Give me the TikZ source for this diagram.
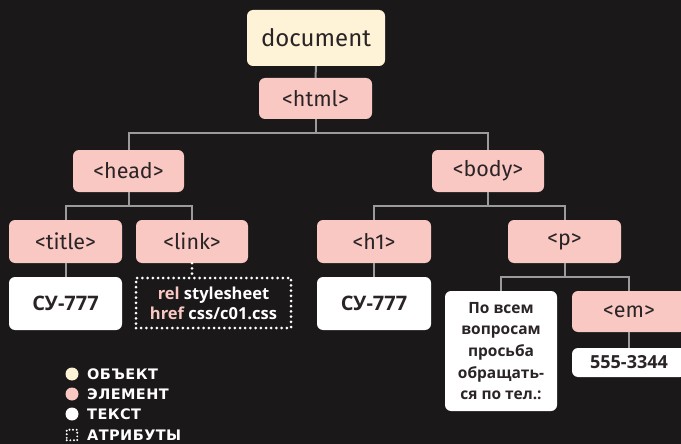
\documentclass[tikz,border=0pt]{standalone}
\usepackage{fontspec}
\setmainfont{Fira Sans}
\newfontfamily\txtfont{Open Sans}
\newfontfamily\legfont{DejaVu Sans}[LetterSpace=3]
\usepackage{xcolor}
\usepackage{tikz}
\usetikzlibrary{calc}

\definecolor{bg}{HTML}{1B1819}
\definecolor{objcol}{HTML}{FFF3D7}
\definecolor{elemcol}{HTML}{F9C8C2}
\definecolor{linecol}{HTML}{9B9B9B}
\definecolor{ink}{HTML}{2A2426}

\begin{document}
\begin{tikzpicture}[x=1pt,y=-1pt,
	box/.style={rectangle,rounded corners=6pt,inner sep=0pt,align=center,text=ink},
	obj/.style={box,fill=objcol,font=\fontsize{24}{30}\selectfont},
	elem/.style={box,fill=elemcol,font=\fontsize{21.5}{24}\selectfont},
	txt/.style={box,fill=white,font=\txtfont\bfseries\fontsize{20}{24}\selectfont},
	wire/.style={draw=linecol,line width=2pt},
	dots/.style={draw=white,line width=3pt,line cap=round,dash pattern=on 0pt off 5.2pt},
	legend/.style={anchor=west,inner sep=0pt,text=white,font=\legfont\bfseries\fontsize{14.5}{16}\selectfont}]
\fill[bg] (0,0) rectangle (681,444);
\useasboundingbox (0,0) rectangle (681,444);

% tree
\node[obj,minimum width=138pt,minimum height=56pt] (doc) at (316,38) {document};
\node[elem,minimum width=113pt,minimum height=41pt] (html) at (315.5,98.5) {<html>};
\node[elem,minimum width=111pt,minimum height=42pt] (head) at (128.5,171) {<head>};
\node[elem,minimum width=112pt,minimum height=42pt] (body) at (488,171) {<body>};
\node[elem,minimum width=113pt,minimum height=43pt] (title) at (65.5,241.5) {<title>};
\node[elem,minimum width=112pt,minimum height=43pt] (link) at (192,241.5) {<link>};
\node[elem,minimum width=114pt,minimum height=43pt] (h1) at (374,241.5) {<h1>};
\node[elem,minimum width=113pt,minimum height=43pt] (p) at (564.5,241.5) {<p>};
\node[elem,minimum width=114pt,minimum height=41pt] (em) at (629,311.5) {<em>};

\node[txt,minimum width=113pt,minimum height=53pt] (ttitle) at (65.5,303.5) {СУ-777};
\node[txt,minimum width=114pt,minimum height=53pt] (th1) at (374,303.5) {СУ-777};
\node[txt,minimum width=112pt,minimum height=120pt,font=\txtfont\bfseries\fontsize{15.5}{21.6}\selectfont] (tpara) at (501,351)
	{По всем\\вопросам\\просьба\\обращать-\\ся по тел.:};
\node[txt,minimum width=114pt,minimum height=29pt,font=\txtfont\bfseries\fontsize{18}{20}\selectfont] (tem) at (629,362.5) {555-3344};

\node[box,dots,rounded corners=0pt,text=white,minimum width=155pt,minimum height=50pt,font=\txtfont\bfseries\fontsize{16.5}{20}\selectfont] (attr) at (213.5,303)
	{\textcolor{elemcol}{rel} stylesheet\\\textcolor{elemcol}{href} css/c01.css};

\coordinate (hb) at (315.5,133);
\coordinate (hd) at (128.5,206);
\coordinate (bd) at (488,206);
\coordinate (pd) at (564.5,277);

\draw[wire] (doc.south) -- (html.north);
\draw[wire] (html.south) -- (hb) -| (head.north);
\draw[wire] (hb) -| (body.north);
\draw[wire] (head.south) -- (hd) -| (title.north);
\draw[wire] (hd) -| (link.north);
\draw[wire] (body.south) -- (bd) -| (h1.north);
\draw[wire] (bd) -| (p.north);
\draw[wire] (p.south) -- (pd) -| (tpara.north);
\draw[wire] (pd) -| (em.north);
\draw[wire] (title.south) -- (ttitle.north);
\draw[wire] (h1.south) -- (th1.north);
\draw[wire] (em.south) -- (tem.north);
\draw[dots] (link.south) -- (link.south |- attr.north);

% legend
\node[circle,fill=objcol,inner sep=0pt,minimum size=13pt] (lobj) at (72,374) {};
\node[circle,fill=elemcol,inner sep=0pt,minimum size=13pt] (lelem) at (72,394) {};
\node[circle,fill=white,inner sep=0pt,minimum size=13pt] (ltxt) at (72,414) {};
\node[dots,line width=2.2pt,dash pattern=on 0pt off 3.6pt,inner sep=0pt,minimum size=10.5pt] (lattr) at (72,435) {};
\node[legend] (tobj) at (87,374) {ОБЪЕКТ};
\node[legend] (telem) at (87,394) {ЭЛЕМЕНТ};
\node[legend] (ttxt) at (87,414) {ТЕКСТ};
\node[legend] (tattr) at (87,435) {АТРИБУТЫ};
\end{tikzpicture}
\end{document}
